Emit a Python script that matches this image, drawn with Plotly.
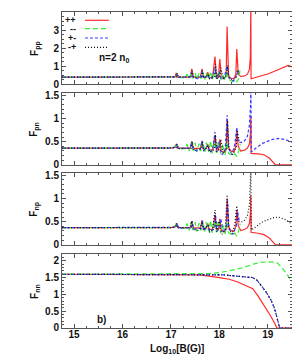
import plotly.graph_objects as go
from plotly.subplots import make_subplots

# ---------------- data ----------------
# Panel 1: F_pp
red_pp_x = [14.75, 17.0, 17.08, 17.11, 17.14, 17.40, 17.43, 17.46, 17.61, 17.64, 17.67, 17.73, 17.76, 17.79,
            17.86, 17.91, 17.94, 17.98, 18.01, 18.04, 18.10, 18.14, 18.16, 18.19, 18.24, 18.30, 18.34, 18.36,
            18.39, 18.44, 18.52, 18.58, 18.62, 18.64, 18.65, 18.655, 18.8, 19.0, 19.2, 19.42, 19.5]
red_pp_y = [0.38, 0.38, 0.40, 0.62, 0.38, 0.38, 0.84, 0.38, 0.40, 0.84, 0.37, 0.38, 0.66, 0.34,
            0.36, 1.53, 0.36, 0.36, 1.39, 0.35, 0.30, 0.45, 3.2, 0.45, 0.32, 0.30, 0.55, 1.94,
            0.55, 0.42, 0.45, 0.55, 0.8, 1.5, 4.5, 0.29, 0.40, 0.56, 0.78, 1.03, 0.95]
green_pp_x = [14.75, 17.0, 17.10, 17.12, 17.2, 17.3, 17.33, 17.38, 17.41, 17.45, 17.5, 17.53, 17.58, 17.62,
              17.66, 17.70, 17.73, 17.78, 17.82, 17.85, 17.90, 17.94, 17.98, 18.03, 18.07, 18.12, 18.15,
              18.19, 18.24, 18.28, 18.32, 18.36, 18.40, 18.43]
green_pp_y = [0.38, 0.38, 0.40, 0.55, 0.36, 0.36, 0.55, 0.30, 0.60, 0.32, 0.62, 0.28, 0.58, 0.30,
              0.68, 0.25, 0.62, 0.28, 0.70, 0.22, 0.65, 0.25, 0.72, 0.22, 0.55, 0.2, 0.7,
              0.25, 0.18, 0.12, 0.2, 0.12, 0.3, 0.85]
blue_pp_x = [14.75, 17.0, 17.10, 17.12, 17.15, 17.40, 17.43, 17.46, 17.55, 17.6, 17.64, 17.67, 17.76, 17.80,
             17.85, 17.91, 17.94, 18.0, 18.02, 18.06, 18.10, 18.16, 18.19, 18.25, 18.30, 18.36, 18.40]
blue_pp_y = [0.38, 0.38, 0.4, 0.55, 0.38, 0.38, 0.65, 0.36, 0.30, 0.35, 0.7, 0.30, 0.5, 0.28,
             0.35, 0.9, 0.3, 0.7, 0.35, 0.25, 0.35, 1.0, 0.4, 0.2, 0.18, 0.5, 0.75]
black_pp_x = [14.75, 17.0, 17.11, 17.13, 17.16, 17.42, 17.44, 17.47, 17.63, 17.65, 17.68, 17.77, 17.8,
              17.9, 17.92, 17.95, 18.01, 18.03, 18.08, 18.15, 18.17, 18.2, 18.28, 18.35, 18.37, 18.41]
black_pp_y = [0.38, 0.38, 0.4, 0.6, 0.38, 0.4, 0.75, 0.36, 0.4, 0.75, 0.33, 0.55, 0.3,
              0.4, 1.1, 0.3, 0.45, 0.9, 0.28, 0.5, 1.05, 0.35, 0.22, 0.4, 0.8, 0.6]

# Panel 2: F_pn
red_pn_x = [14.75, 17.0, 17.09, 17.11, 17.14, 17.40, 17.43, 17.46, 17.61, 17.64, 17.67, 17.73, 17.76, 17.79,
            17.86, 17.91, 17.94, 17.98, 18.01, 18.04, 18.10, 18.14, 18.16, 18.19, 18.24, 18.30, 18.34, 18.36,
            18.39, 18.44, 18.52, 18.58, 18.62, 18.64, 18.65, 18.655, 18.8, 18.92, 19.03, 19.1, 19.16, 19.5]
red_pn_y = [0.36, 0.36, 0.38, 0.45, 0.36, 0.36, 0.50, 0.35, 0.36, 0.50, 0.34, 0.35, 0.45, 0.32,
            0.33, 0.63, 0.32, 0.32, 0.55, 0.30, 0.27, 0.33, 0.98, 0.38, 0.3, 0.28, 0.4, 0.73,
            0.4, 0.3, 0.32, 0.36, 0.45, 0.65, 1.05, 0.25, 0.24, 0.22, 0.15, 0.08, 0.0, 0.0]
green_pn_x = [14.75, 17.0, 17.12, 17.2, 17.3, 17.33, 17.38, 17.41, 17.45, 17.5, 17.53, 17.58, 17.62, 17.66,
              17.70, 17.73, 17.78, 17.82, 17.85, 17.90, 17.94, 17.98, 18.03, 18.07, 18.12, 18.15, 18.19,
              18.24, 18.28, 18.32, 18.36, 18.40, 18.43]
green_pn_y = [0.36, 0.36, 0.42, 0.35, 0.35, 0.45, 0.30, 0.47, 0.31, 0.48, 0.28, 0.46, 0.30, 0.50,
              0.27, 0.48, 0.28, 0.52, 0.25, 0.50, 0.26, 0.52, 0.24, 0.45, 0.22, 0.5, 0.25,
              0.22, 0.2, 0.24, 0.18, 0.3, 0.45]
blue_pn_x = [14.75, 17.0, 17.10, 17.12, 17.15, 17.40, 17.43, 17.46, 17.55, 17.61, 17.64, 17.67, 17.76, 17.80,
             17.86, 17.91, 17.94, 18.0, 18.02, 18.06, 18.12, 18.16, 18.19, 18.26, 18.32, 18.36, 18.39,
             18.45, 18.52, 18.58, 18.62, 18.645, 18.65, 18.66, 18.75, 18.9, 19.1, 19.22, 19.35, 19.5]
blue_pn_y = [0.36, 0.36, 0.38, 0.45, 0.36, 0.36, 0.50, 0.33, 0.30, 0.34, 0.52, 0.30, 0.42, 0.27,
             0.32, 0.71, 0.28, 0.5, 0.32, 0.22, 0.32, 1.07, 0.36, 0.22, 0.45, 0.81, 0.5,
             0.48, 0.52, 0.62, 0.85, 1.3, 1.9, 0.28, 0.36, 0.47, 0.55, 0.57, 0.55, 0.49]
black_pn_x = [14.75, 17.0, 17.11, 17.13, 17.16, 17.42, 17.44, 17.47, 17.63, 17.65, 17.68, 17.77, 17.8,
              17.9, 17.92, 17.95, 18.01, 18.03, 18.08, 18.15, 18.17, 18.2, 18.28, 18.35, 18.37, 18.41]
black_pn_y = [0.36, 0.36, 0.37, 0.45, 0.35, 0.36, 0.5, 0.33, 0.35, 0.5, 0.3, 0.42, 0.28,
              0.33, 0.65, 0.28, 0.35, 0.55, 0.26, 0.35, 0.95, 0.33, 0.22, 0.4, 0.75, 0.5]

# Panel 3: F_np
red_np_x = red_pn_x
red_np_y = [0.37, 0.37, 0.39, 0.46, 0.37, 0.37, 0.51, 0.36, 0.37, 0.51, 0.35, 0.36, 0.46, 0.33,
            0.34, 0.64, 0.33, 0.33, 0.56, 0.31, 0.28, 0.34, 0.99, 0.39, 0.31, 0.29, 0.41, 0.73,
            0.41, 0.31, 0.33, 0.37, 0.46, 0.66, 1.06, 0.27, 0.25, 0.22, 0.15, 0.08, 0.0, 0.0]
green_np_x = green_pn_x
green_np_y = [0.37, 0.37, 0.43, 0.36, 0.36, 0.46, 0.31, 0.48, 0.32, 0.49, 0.29, 0.47, 0.31, 0.51,
              0.28, 0.49, 0.29, 0.53, 0.26, 0.51, 0.27, 0.53, 0.25, 0.46, 0.23, 0.51, 0.26,
              0.23, 0.21, 0.25, 0.19, 0.31, 0.46]
blue_np_x = black_pn_x
blue_np_y = [0.37, 0.37, 0.38, 0.46, 0.36, 0.37, 0.51, 0.34, 0.36, 0.51, 0.31, 0.43, 0.29,
             0.34, 0.66, 0.29, 0.36, 0.56, 0.27, 0.36, 0.96, 0.34, 0.23, 0.41, 0.76, 0.51]
black_np_x = [14.75, 17.0, 17.10, 17.12, 17.15, 17.40, 17.43, 17.46, 17.55, 17.61, 17.64, 17.67, 17.76, 17.80,
              17.86, 17.91, 17.94, 18.0, 18.02, 18.06, 18.12, 18.16, 18.19, 18.26, 18.32, 18.36, 18.39,
              18.45, 18.52, 18.58, 18.62, 18.645, 18.65, 18.66, 18.75, 18.9, 19.1, 19.22, 19.35, 19.5]
black_np_y = [0.37, 0.37, 0.39, 0.46, 0.37, 0.37, 0.51, 0.34, 0.31, 0.35, 0.53, 0.31, 0.43, 0.28,
              0.33, 0.75, 0.29, 0.51, 0.33, 0.23, 0.33, 1.08, 0.37, 0.23, 0.46, 0.84, 0.51,
              0.49, 0.53, 0.63, 0.86, 1.3, 1.59, 0.32, 0.39, 0.5, 0.58, 0.6, 0.55, 0.45]

# Panel 4: F_nn
red_nn_x = [14.75, 17.3, 17.6, 18.0, 18.2, 18.38, 18.55, 18.69, 18.8, 18.93, 19.05, 19.12, 19.19, 19.5]
red_nn_y = [1.6, 1.6, 1.58, 1.5, 1.45, 1.37, 1.27, 1.17, 0.95, 0.67, 0.38, 0.2, 0.0, 0.0]
green_nn_x = [14.75, 17.4, 17.8, 18.0, 18.2, 18.5, 18.72, 18.85, 19.0, 19.12, 19.2, 19.33, 19.5]
green_nn_y = [1.6, 1.6, 1.62, 1.65, 1.7, 1.8, 1.91, 1.95, 1.97, 1.96, 1.93, 1.73, 1.38]
blue_nn_x = [14.75, 17.9, 18.1, 18.3, 18.5, 18.69, 18.78, 18.86, 18.96, 19.07, 19.14, 19.19, 19.22, 19.245, 19.5]
blue_nn_y = [1.6, 1.6, 1.58, 1.55, 1.53, 1.5, 1.42, 1.27, 1.08, 0.82, 0.58, 0.31, 0.12, 0.0, 0.0]
black_nn_x = blue_nn_x
black_nn_y = blue_nn_y

legend_labels = ["++", "--", "+-", "-+"]
x_ticks = [15, 16, 17, 18, 19]
y_titles = ["F<sub>pp</sub>", "F<sub>pn</sub>", "F<sub>np</sub>", "F<sub>nn</sub>"]

# ---------------- styles ----------------
RED, GREEN, BLUE, BLACK = "#ff2a2a", "#33ee33", "#3a3aff", "#111111"
styles = [
    dict(color=RED, width=1.2, dash="solid"),
    dict(color=GREEN, width=1.2, dash="5px,3px"),
    dict(color=BLUE, width=1.2, dash="3px,2px"),
    dict(color=BLACK, width=1.2, dash="1px,2px"),
]

panels = [
    [(red_pp_x, red_pp_y), (green_pp_x, green_pp_y), (blue_pp_x, blue_pp_y), (black_pp_x, black_pp_y)],
    [(red_pn_x, red_pn_y), (green_pn_x, green_pn_y), (blue_pn_x, blue_pn_y), (black_pn_x, black_pn_y)],
    [(red_np_x, red_np_y), (green_np_x, green_np_y), (blue_np_x, blue_np_y), (black_np_x, black_np_y)],
    [(red_nn_x, red_nn_y), (green_nn_x, green_nn_y), (blue_nn_x, blue_nn_y), (black_nn_x, black_nn_y)],
]

fig = make_subplots(rows=4, cols=1, shared_xaxes=True)
for r, series in enumerate(panels, start=1):
    for (xs, ys), st, nm in zip(series, styles, legend_labels):
        fig.add_trace(go.Scatter(x=xs, y=ys, mode="lines", line=st, name=nm, showlegend=False),
                      row=r, col=1)

FONT = dict(family="Liberation Sans, Arial, sans-serif", size=10, color="#111", weight="bold")
LFONT = dict(family="Liberation Sans, Arial, sans-serif", size=9, color="#111", weight="bold")
domains = [(0.772, 1.0), (0.516, 0.744), (0.263, 0.491), (0.0, 0.234)]
yranges = [[0, 4], [0, 1.55], [0, 1.55], [0, 2.2]]
ydticks = [1, 0.5, 0.5, 0.5]
yminor = [0.25, 0.1, 0.1, 0.1]
axis_common = dict(showline=True, mirror="allticks", linecolor="#555", linewidth=1, automargin=False,
                   ticks="inside", ticklen=4, tickcolor="#555", showgrid=False, zeroline=False,
                   tickfont=FONT)
for i in range(4):
    sx = "xaxis" if i == 0 else f"xaxis{i+1}"
    sy = "yaxis" if i == 0 else f"yaxis{i+1}"
    fig.layout[sx].update(range=[14.75, 19.5], tickvals=x_ticks, showticklabels=(i == 3),
                          ticklabelstandoff=-3,
                          minor=dict(dtick=0.25, tick0=15, ticks="inside", ticklen=2, tickcolor="#555"),
                          **axis_common)
    fig.layout[sy].update(domain=list(domains[i]), range=yranges[i], dtick=ydticks[i], tick0=0,
                          minor=dict(dtick=yminor[i], tick0=0, ticks="inside", ticklen=2, tickcolor="#555"),
                          **axis_common)
    # y-axis title as rotated text, centred on its panel
    fig.add_annotation(text=y_titles[i], xref="paper", yref="paper", x=-0.118,
                       y=(domains[i][0] + domains[i][1]) / 2, textangle=-90,
                       xanchor="center", yanchor="middle", showarrow=False, font=FONT)

fig.add_annotation(text="Log<sub>10</sub>[B(G)]", xref="paper", yref="paper", x=0.5, y=-0.066,
                   xanchor="center", yanchor="middle", showarrow=False, font=FONT)

# legend drawn inside the top panel (text left of sample line)
leg_y = [0.885, 0.768, 0.639, 0.51]
for lab, st, yy in zip(legend_labels, styles, leg_y):
    fig.add_annotation(text=lab, xref="x domain", yref="y domain", x=0.07, y=yy,
                       xanchor="right", yanchor="middle", showarrow=False, font=LFONT)
    fig.add_shape(type="line", xref="x domain", yref="y domain", x0=0.10, x1=0.204, y0=yy, y1=yy,
                  line=st)
fig.add_annotation(text="n=2 n<sub>0</sub>", xref="x domain", yref="y domain", x=0.15, y=0.36,
                   xanchor="left", yanchor="middle", showarrow=False, font=FONT)
fig.add_annotation(text="b)", xref="x4 domain", yref="y4 domain", x=0.17, y=0.11,
                   xanchor="center", yanchor="middle", showarrow=False, font=FONT)

fig.update_layout(template="none", width=300, height=357, margin=dict(l=54, r=16, t=4, b=37),
                  paper_bgcolor="white", plot_bgcolor="white", showlegend=False)
fig.write_html("out.html")
